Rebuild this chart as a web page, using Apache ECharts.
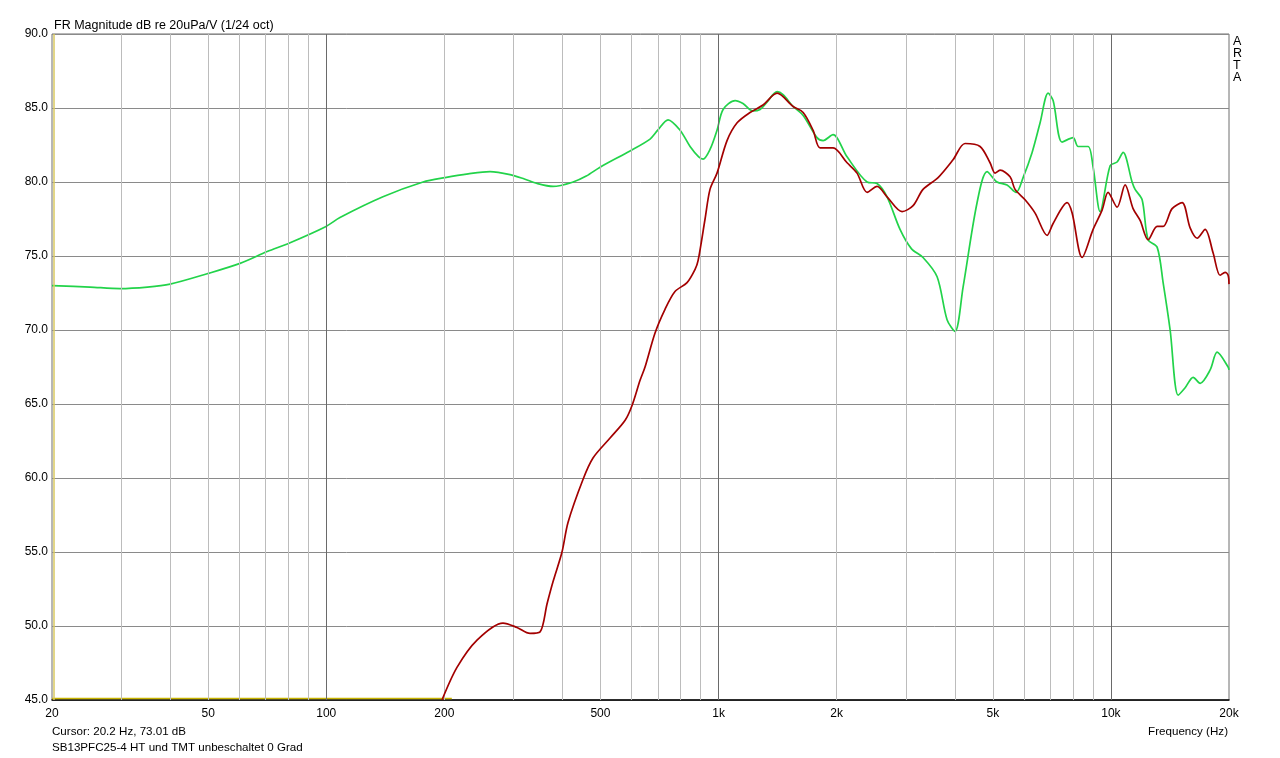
<!DOCTYPE html>
<html><head><meta charset="utf-8">
<script src="https://cdn.jsdelivr.net/npm/echarts@6/dist/echarts.min.js"></script>
<style>html,body{margin:0;padding:0;background:#fff}#c{width:1280px;height:758px}</style>
</head><body><div id="c"></div>
<script>
const greenFreq = [20,25,29.8,35,40,49.7,60.3,70.7,80.9,99.9,108.4,139.5,176.5,200.9,230,261.5,294,320,344.6,378.6,425.8,460,498.9,594.8,669,700,743.5,797.7,846,890,912.9,951,991,1027,1102,1154,1224,1276,1329,1410,1460,1549,1643,1782,1847,1958,2126,2391,2535,2688,2901,3100,3320,3606,3823,4006,4200,4559,4834,5127,5437,5733,5973,6298,6600,6918,7124,7508,8011,8250,8748,9009,9388,9954,10371,10743,11324,11527,12012,12442,13117,13587,14157,14838,15461,16205,16886,17904,18656,19898,20000];
const greenDb = [73.0,72.9,72.8,72.9,73.1,73.8,74.5,75.3,75.9,77.0,77.6,79.0,80.0,80.3,80.55,80.7,80.5,80.2,79.9,79.7,80.0,80.4,81.0,82.1,82.9,83.5,84.2,83.5,82.4,81.7,81.55,82.2,83.5,84.9,85.5,85.3,84.8,84.9,85.4,86.1,85.9,85.1,84.5,83.0,82.8,83.2,81.7,80.0,79.9,79.0,76.8,75.5,74.9,73.6,70.7,69.9,72.9,78.6,80.7,80.0,79.8,79.3,80.3,82.0,84.0,86.0,85.5,82.7,83.0,82.4,82.4,81.0,78.0,81.1,81.35,82.0,80.0,79.5,78.8,76.1,75.6,73.2,70.0,65.6,66.1,66.8,66.4,67.3,68.5,67.5,67.3];
const redFreq = [197.3,215.4,242.3,282.2,306.4,330.7,350.8,365.5,378.6,399,413.3,451.3,478.6,529,577.9,601.8,630.8,649.5,688.8,730.3,774.4,831.1,871.2,887,923.8,951,991,1051,1115,1203,1298,1410,1549,1643,1741,1815,1958,2126,2254,2391,2535,2688,2936,3132,3320,3627,3959,4249,4640,4920,5067,5218,5534,5698,6043,6409,6877,7124,7734,7965,8446,9009,9496,9835,10371,10870,11391,11871,12442,13117,13587,14322,15190,15921,16590,17386,18222,18978,19548,19898,20000];
const redDb = [45.0,47.2,49.05,50.2,49.9,49.5,49.6,51.5,53.0,55.0,57.0,59.9,61.35,62.7,63.9,64.9,66.6,67.5,69.8,71.4,72.6,73.2,74.1,74.7,77.5,79.5,80.6,82.8,84.0,84.7,85.2,86.0,85.1,84.7,83.5,82.3,82.3,81.3,80.6,79.3,79.7,79.0,78.0,78.4,79.5,80.3,81.5,82.6,82.4,81.3,80.6,80.8,80.35,79.5,78.8,77.9,76.4,77.2,78.6,77.9,74.9,76.8,78.1,79.3,78.3,79.8,78.2,77.4,76.1,77.0,77.0,78.2,78.6,76.9,76.2,76.8,75.2,73.7,73.9,73.7,73.1];
const floorFreq = [20,209];
const floorDb = [45.1,45.1];
const cursorFreq = 20.2;
const gridFreqs = [30,40,50,60,70,80,90,100,200,300,400,500,600,700,800,900,1000,2000,3000,4000,5000,6000,7000,8000,9000,10000];
const majorFreqs = [100,1000,10000];
const tickFreqs = [20,50,100,200,500,1000,2000,5000,10000,20000];
const tickLabels = ['20','50','100','200','500','1k','2k','5k','10k','20k'];

const FONT = "'Liberation Sans', Arial, sans-serif";
const chart = echarts.init(document.getElementById('c'));
const zip = (a,b) => a.map((v,i)=>[v,b[i]]);
const labelMap = {};
tickFreqs.forEach((f,i)=>{labelMap[f]=tickLabels[i];});

chart.setOption({
  animation:false,
  backgroundColor:'#ffffff',
  grid:{left:52,right:51,top:34,bottom:58,show:true,borderColor:'#6e6e6e',borderWidth:1,backgroundColor:'transparent'},
  xAxis:{type:'log',logBase:10,min:20,max:20000,
    axisLine:{show:true,onZero:false,lineStyle:{color:'#000',width:1.5}},
    axisTick:{show:false},splitLine:{show:false},minorSplitLine:{show:false},
    axisLabel:{customValues:tickFreqs,showMinLabel:true,showMaxLabel:true,margin:8,fontSize:12,color:'#000',fontFamily:FONT,
      formatter:v=>{const k=Math.round(v);return labelMap[k]!==undefined?labelMap[k]:'';}}},
  yAxis:{type:'value',min:45,max:90,interval:5,
    axisLine:{show:false},axisTick:{show:false},
    axisLabel:{margin:4,fontSize:12,color:'#000',fontFamily:FONT,formatter:v=>v.toFixed(1)},
    splitLine:{show:true,lineStyle:{color:'#8a8a8a',width:1}}},
  series:[
    {type:'line',name:'grid',data:[[20,45]],symbol:'none',lineStyle:{opacity:0},silent:true,z:1,
      markLine:{silent:true,symbol:['none','none'],label:{show:false},animation:false,
        data:gridFreqs.map(f=>({xAxis:f,lineStyle:{color:majorFreqs.includes(f)?'#6a6a6a':'#bcbcbc',width:1,type:'solid'}}))}},
    {type:'line',name:'floor',data:zip(floorFreq,floorDb),symbol:'none',lineStyle:{color:'#c8b400',width:1.5},z:3,
      markLine:{silent:true,symbol:['none','none'],label:{show:false},animation:false,
        data:[{xAxis:cursorFreq,lineStyle:{color:'#d8c860',width:1.5,type:'solid'}}]}},
    {type:'line',name:'green',data:zip(greenFreq,greenDb),symbol:'none',smooth:0.3,lineStyle:{color:'#22d34a',width:1.7},z:4},
    {type:'line',name:'red',data:zip(redFreq,redDb),symbol:'none',smooth:0.3,lineStyle:{color:'#a30000',width:1.7},z:5}
  ],
  graphic:[
    {type:'text',left:54,top:19,style:{text:'FR Magnitude dB re 20uPa/V (1/24 oct)',fontSize:12.5,fontFamily:FONT,fill:'#000'}},
    {type:'text',left:1233,top:35,style:{text:'A\nR\nT\nA',fontSize:12.5,lineHeight:12,fontFamily:FONT,fill:'#000'}},
    {type:'text',left:52,top:726,style:{text:'Cursor: 20.2 Hz, 73.01 dB',fontSize:11.6,fontFamily:FONT,fill:'#000'}},
    {type:'text',left:52,top:742,style:{text:'SB13PFC25-4 HT und TMT unbeschaltet 0 Grad',fontSize:11.6,fontFamily:FONT,fill:'#000'}},
    {type:'text',right:52,top:726,style:{text:'Frequency (Hz)',fontSize:11.6,fontFamily:FONT,fill:'#000'}}
  ]
});
</script></body></html>
